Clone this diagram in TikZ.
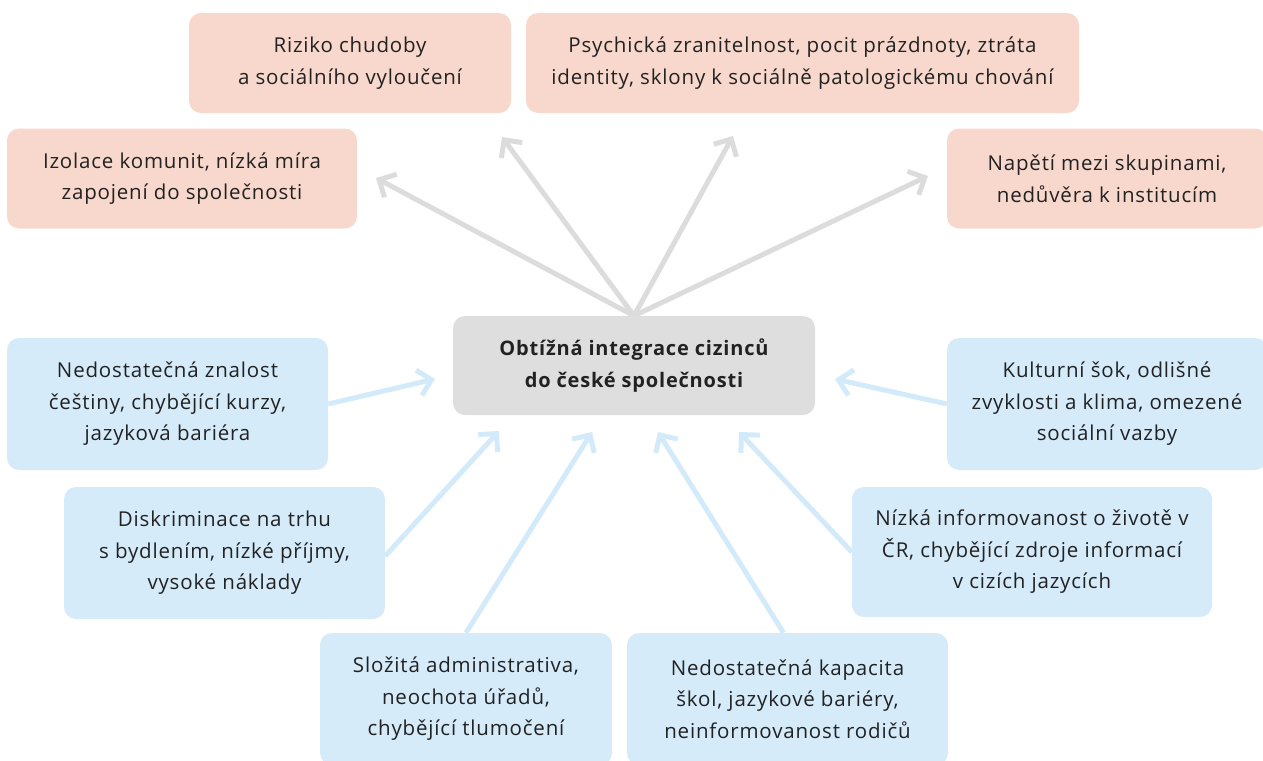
\documentclass[tikz,border=0pt]{standalone}
\usepackage{fontspec}
\setmainfont{Open Sans}[LetterSpace=4]
\usetikzlibrary{arrows.meta,backgrounds}
\definecolor{redbox}{HTML}{F8D8CC}
\definecolor{bluebox}{HTML}{D5EBFA}
\definecolor{graybox}{HTML}{DEDEDE}
\definecolor{arrowgray}{HTML}{DCDCDC}
\definecolor{arrowblue}{HTML}{D3EAFA}
\definecolor{textc}{HTML}{222222}
\begin{document}
\begin{tikzpicture}[x=1pt,y=-1pt,
  box/.style={rectangle, rounded corners=12pt, align=center, inner sep=0pt,
    font=\fontsize{20.5}{31.5}\selectfont, text=textc},
  redb/.style={box, fill=redbox, minimum height=100pt},
  blueb/.style={box, fill=bluebox, minimum height=132pt},
  garrow/.style={draw=arrowgray, line width=5pt, -{Straight Barb[length=13pt,width=26pt]}},
  barrow/.style={draw=arrowblue, line width=5pt, -{Straight Barb[length=13pt,width=26pt]}}]
\useasboundingbox (0,0) rectangle (1263,760);
\clip (0,0) rectangle (1263,760);
% center
\node[box, fill=graybox, minimum width=362pt, minimum height=99pt,
  font=\fontsize{20}{31.5}\selectfont\bfseries] (c) at (634,365.5)
  {Obtížná integrace cizinců\\do české společnosti};
% red boxes
\node[redb, minimum width=322pt] (riz) at (350,63) {Riziko chudoby\\a sociálního vyloučení};
\node[redb, minimum width=553pt] (psy) at (802.5,63) {Psychická zranitelnost, pocit prázdnoty, ztráta\\identity, sklony k sociálně patologickému chování};
\node[redb, minimum width=350pt] (izo) at (182,178.5) {Izolace komunit, nízká míra\\zapojení do společnosti};
\node[redb, minimum width=320pt] (nap) at (1107,178.5) {Napětí mezi skupinami,\\nedůvěra k institucím};
% blue boxes
\node[blueb, minimum width=321pt] (ned) at (167.5,404) {Nedostatečná znalost\\češtiny, chybějící kurzy,\\jazyková bariéra};
\node[blueb, minimum width=320pt] (kul) at (1107,404) {Kulturní šok, odlišné\\zvyklosti a klima, omezené\\sociální vazby};
\node[blueb, minimum width=321pt] (dis) at (224.5,553) {Diskriminace na trhu\\s bydlením, nízké příjmy,\\vysoké náklady};
\node[blueb, minimum width=360pt, minimum height=130pt] (niz) at (1032,552) {Nízká informovanost o životě v\\ČR, chybějící zdroje informací\\v cizích jazycích};
\node[blueb, minimum width=292pt] (slo) at (466,699) {Složitá administrativa,\\neochota úřadů,\\chybějící tlumočení};
\node[blueb, minimum width=321pt] (kap) at (787.5,699) {Nedostatečná kapacita\\škol, jazykové bariéry,\\neinformovanost rodičů};
% arrow tips
\coordinate (g1) at (376,178);
\coordinate (g2) at (502,137);
\coordinate (g3) at (733,136);
\coordinate (g4) at (928,176);
\coordinate (b1) at (435,379);
\coordinate (b2) at (499,431);
\coordinate (b3) at (592,432);
\coordinate (b4) at (658,432);
\coordinate (b5) at (739,432);
\coordinate (b6) at (835,379);
\begin{scope}[on background layer]
\draw[garrow] (c.north) -- (g1);
\draw[garrow] (c.north) -- (g2);
\draw[garrow] (c.north) -- (g3);
\draw[garrow] (c.north) -- (g4);
\draw[barrow] (ned.east) -- (b1);
\draw[barrow] ([yshift=-3pt]dis.east) -- (b2);
\draw[barrow] (slo.north) -- (b3);
\draw[barrow] ([xshift=-4pt]kap.north) -- (b4);
\draw[barrow] (niz.west) -- (b5);
\draw[barrow] (kul.west) -- (b6);
\end{scope}
\end{tikzpicture}
\end{document}
